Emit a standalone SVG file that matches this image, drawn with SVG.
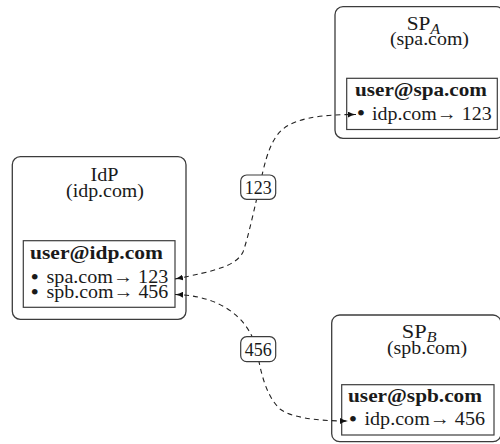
<svg xmlns="http://www.w3.org/2000/svg" width="500" height="444" viewBox="0 0 500 444">
<defs>
<style>
.outer{fill:#fff;stroke:#3c3c3c;stroke-width:1.3}
.inner{fill:#fff;stroke:#3c3c3c;stroke-width:1.2}
.t{font-family:"Liberation Serif","Times New Roman",serif;font-size:19px;fill:#1a1a1a}
.b{font-weight:bold}
.bul{font-size:24px}
.conn{fill:none;stroke:#222;stroke-width:1.1;stroke-dasharray:5 4}
.lbl{fill:#fff;stroke:#3c3c3c;stroke-width:1.2}
</style>
<marker id="ah" viewBox="0 0 8 6" refX="8" refY="3" markerWidth="8" markerHeight="6" markerUnits="userSpaceOnUse" orient="auto-start-reverse">
<path d="M0,0 Q3,2 8,3 Q3,4 0,6 Z" fill="#111" stroke="none"/>
</marker>
</defs>
<rect width="500" height="444" fill="#fff"/>

<g id="idp">
<rect class="outer" x="12.3" y="156.7" width="173.7" height="162.6" rx="8"/>
<text class="t" x="90.5" y="181" textLength="28" lengthAdjust="spacingAndGlyphs">IdP</text>
<text class="t" x="66" y="196.5" textLength="78" lengthAdjust="spacingAndGlyphs">(idp.com)</text>
<rect class="inner" x="23.3" y="240.7" width="151.7" height="66.6"/>
<text class="t b" x="30" y="258.5" textLength="133" lengthAdjust="spacingAndGlyphs">user@idp.com</text>
<text class="t" x="30.5" y="283"><tspan class="bul" dy="1.5">•</tspan><tspan x="46.5" dy="-1.5" textLength="121.8" lengthAdjust="spacingAndGlyphs">spa.com→ 123</tspan></text>
<text class="t" x="30.5" y="298"><tspan class="bul" dy="1.5">•</tspan><tspan x="46.5" dy="-1.5" textLength="121.8" lengthAdjust="spacingAndGlyphs">spb.com→ 456</tspan></text>
</g>

<g id="spa">
<rect class="outer" x="335" y="6.7" width="169" height="131.6" rx="8"/>
<text class="t" x="406.7" y="30" textLength="33.3" lengthAdjust="spacingAndGlyphs">SP<tspan font-style="italic" font-size="14" dy="3.5">A</tspan></text>
<text class="t" x="390" y="45" textLength="79" lengthAdjust="spacingAndGlyphs">(spa.com)</text>
<rect class="inner" x="346.7" y="78.3" width="150.6" height="51.2"/>
<text class="t b" x="355" y="96.3" textLength="132" lengthAdjust="spacingAndGlyphs">user@spa.com</text>
<text class="t" x="356.8" y="119.8"><tspan class="bul" dy="1.5">•</tspan><tspan x="372" dy="-1.5" textLength="119.7" lengthAdjust="spacingAndGlyphs">idp.com→ 123</tspan></text>
</g>

<g id="spb">
<rect class="outer" x="331.7" y="315" width="169.3" height="126.7" rx="8"/>
<text class="t" x="401.7" y="338" textLength="35" lengthAdjust="spacingAndGlyphs">SP<tspan font-style="italic" font-size="14" dy="3.5">B</tspan></text>
<text class="t" x="387" y="353.5" textLength="80" lengthAdjust="spacingAndGlyphs">(spb.com)</text>
<rect class="inner" x="341.7" y="384.7" width="152.3" height="50.3"/>
<text class="t b" x="348" y="402.3" textLength="134" lengthAdjust="spacingAndGlyphs">user@spb.com</text>
<text class="t" x="348.8" y="425"><tspan class="bul" dy="1.5">•</tspan><tspan x="364.5" dy="-1.5" textLength="120.5" lengthAdjust="spacingAndGlyphs">idp.com→ 456</tspan></text>
</g>

<g id="connectors">
<path class="conn" marker-start="url(#ah)" marker-end="url(#ah)" d="M175,279 C215,271 236,266 243,252 C249,235 255,205 259.5,187 C264,165 268,150 274,140 C283,124 300,114.5 356,114.5"/>
<path class="conn" marker-start="url(#ah)" marker-end="url(#ah)" d="M175,294.5 C235,296 252.5,332 256.5,349 C260.5,370 265,395 280,409 C290,417 315,421 348,421"/>
<g id="label123">
<rect class="lbl" x="240.7" y="175" width="35" height="24.3" rx="6"/>
<text class="t" x="258.2" y="193.5" text-anchor="middle" textLength="27" lengthAdjust="spacingAndGlyphs">123</text>
</g>
<g id="label456">
<rect class="lbl" x="240.7" y="336.7" width="35" height="25" rx="6"/>
<text class="t" x="258.2" y="355.5" text-anchor="middle" textLength="27" lengthAdjust="spacingAndGlyphs">456</text>
</g>
</g>
</svg>
